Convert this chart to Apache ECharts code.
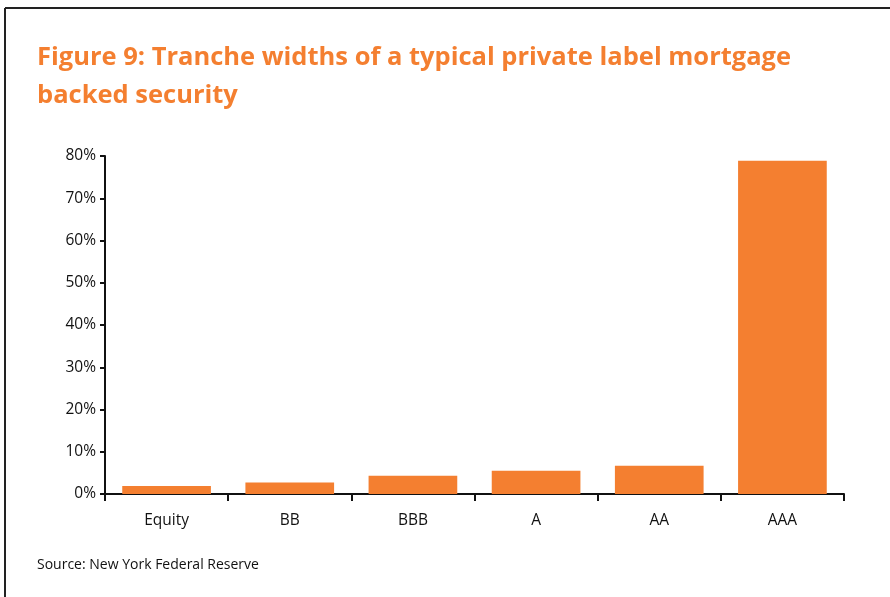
<!DOCTYPE html>
<html><head><meta charset="utf-8">
<script src="https://cdn.jsdelivr.net/npm/echarts@6/dist/echarts.min.js"></script>
<style>html,body{margin:0;padding:0;background:#fff}#c{width:890px;height:597px}</style>
</head><body><div id="c"></div>
<script>
const categories = ["Equity", "BB", "BBB", "A", "AA", "AAA"];
const trancheWidths = [1.9, 2.7, 4.3, 5.5, 6.7, 78.9];
const yTicks = [0, 10, 20, 30, 40, 50, 60, 70, 80];

const chart = echarts.init(document.getElementById('c'), null, {renderer: 'canvas'});
chart.setOption({
  animation: false,
  backgroundColor: '#fff',
  title: {
    text: 'Figure 9: Tranche widths of a typical private label mortgage\nbacked security',
    left: 32, top: 34,
    textStyle: {fontFamily: 'Open Sans', fontWeight: 'bold', fontSize: 25.5, color: '#F47F30', lineHeight: 38}
  },
  graphic: [
    {type: 'line', shape: {x1: 5, y1: 8, x2: 890, y2: 8}, style: {stroke: '#222', lineWidth: 2}},
    {type: 'line', shape: {x1: 5, y1: 8, x2: 5, y2: 597}, style: {stroke: '#222', lineWidth: 2}},
    {type: 'text', left: 37, top: 558, style: {text: 'Source: New York Federal Reserve', fontFamily: 'Open Sans', fontSize: 14, fill: '#111'}}
  ],
  grid: {left: 105, right: 46, top: 156, bottom: 103, containLabel: false},
  xAxis: {
    type: 'category', data: categories,
    axisLine: {lineStyle: {color: '#111', width: 2}},
    axisTick: {show: true, length: 7, lineStyle: {color: '#111', width: 2}, alignWithLabel: false},
    axisLabel: {color: '#111', fontFamily: 'Open Sans', fontSize: 15.5, margin: 19}
  },
  yAxis: {
    type: 'value', min: 0, max: 80, interval: 10,
    axisLine: {show: true, lineStyle: {color: '#111', width: 2}},
    axisTick: {show: true, length: 5, lineStyle: {color: '#111', width: 2}},
    splitLine: {show: false},
    axisLabel: {color: '#111', fontFamily: 'Open Sans', fontSize: 15.5, margin: 9,
      formatter: v => yTicks.includes(v) ? v + '%' : ''}
  },
  series: [{
    type: 'bar', data: trancheWidths, barCategoryGap: '28%',
    itemStyle: {color: '#F47F30'}
  }]
});
</script></body></html>
